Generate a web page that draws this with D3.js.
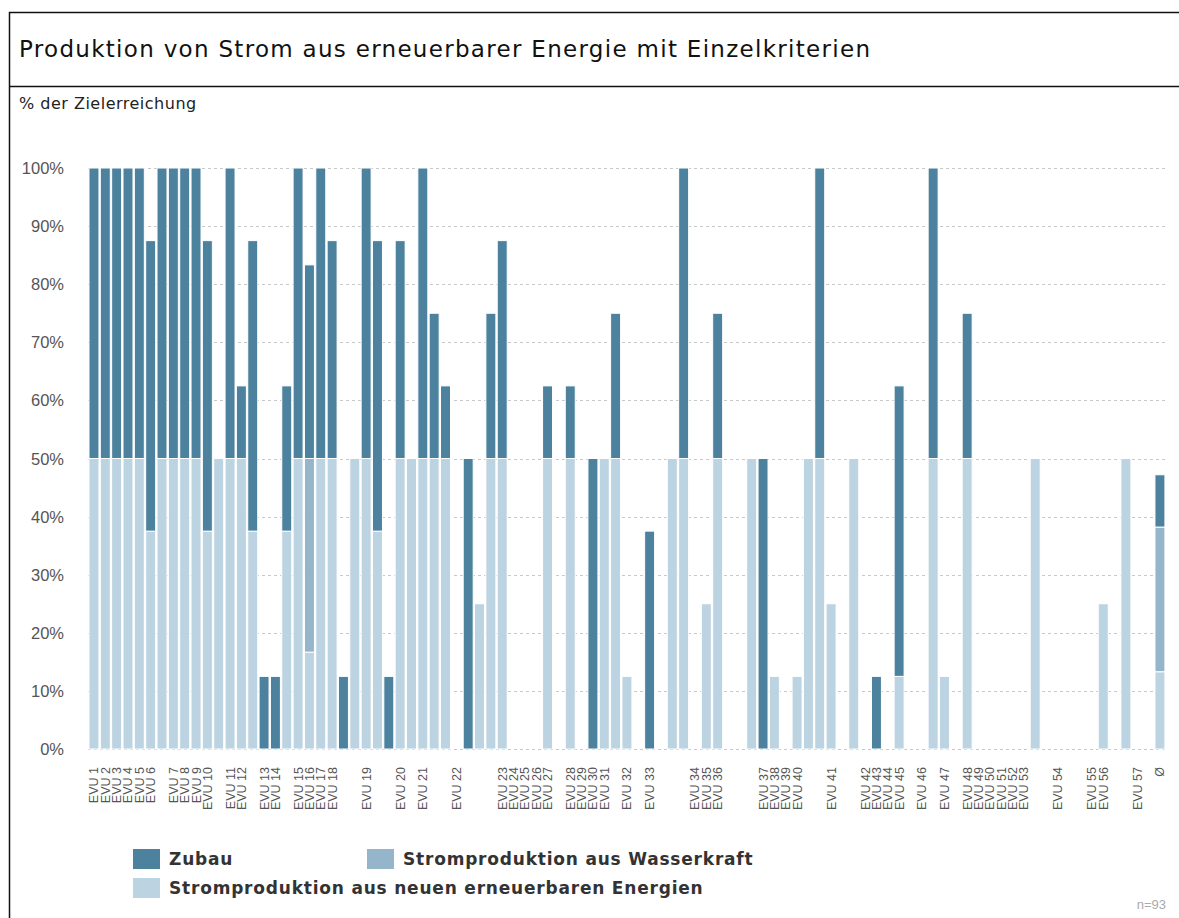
<!DOCTYPE html>
<html lang="de">
<head>
    <meta charset="UTF-8">
    <title>Produktion von Strom aus erneuerbarer Energie</title>
    <script src="https://d3js.org/d3.v7.min.js"></script>
    <style>
        body {
            margin: 0;
            background: #fff;
        }
        svg {
            display: block;
        }
        .title {
            font-family: 'DejaVu Sans', sans-serif;
            font-size: 23px;
            letter-spacing: 1.3px;
            fill: #111;
        }
        .subtitle {
            font-family: 'DejaVu Sans', sans-serif;
            font-size: 16px;
            letter-spacing: 0.5px;
            fill: #222;
        }
        .ytick {
            font-family: 'Liberation Sans', Arial, sans-serif;
            font-size: 16.5px;
            fill: #555;
        }
        .xtick {
            font-family: 'Liberation Sans', Arial, sans-serif;
            font-size: 12.5px;
            fill: #555;
        }
        .legend text {
            font-family: 'DejaVu Sans', sans-serif;
            font-size: 17px;
            letter-spacing: 0.8px;
            font-weight: bold;
            fill: #333;
        }
        .grid {
            stroke: #c8c8c8;
            stroke-width: 1.2;
            stroke-dasharray: 3,3;
        }
    </style>
</head>
<body>
<svg id="chart" width="1179" height="918"></svg>
<script>
    // one slot per bar; "" = anonymous EVU without label
    const labels = [
        "EVU 1", "EVU 2", "EVU 3", "EVU 4", "EVU 5", "EVU 6", "", "EVU 7", "EVU 8", "EVU 9",
        "EVU 10", "", "EVU 11", "EVU 12", "", "EVU 13", "EVU 14", "", "EVU 15", "EVU 16",
        "EVU 17", "EVU 18", "", "", "EVU 19", "", "", "EVU 20", "", "EVU 21",
        "", "", "EVU 22", "", "", "", "EVU 23", "EVU 24", "EVU 25", "EVU 26",
        "EVU 27", "", "EVU 28", "EVU 29", "EVU 30", "EVU 31", "", "EVU 32", "", "EVU 33",
        "", "", "", "EVU 34", "EVU 35", "EVU 36", "", "", "", "EVU 37",
        "EVU 38", "EVU 39", "EVU 40", "", "", "EVU 41", "", "", "EVU 42", "EVU 43",
        "EVU 44", "EVU 45", "", "EVU 46", "", "EVU 47", "", "EVU 48", "EVU 49", "EVU 50",
        "EVU 51", "EVU 52", "EVU 53", "", "", "EVU 54", "", "", "EVU 55", "EVU 56",
        "", "", "EVU 57", "", "Ø"
    ];

    // Stromproduktion aus neuen erneuerbaren Energien (%)
    const neueEE = [
        50, 50, 50, 50, 50, 37.5, 50, 50, 50, 50,
        37.5, 50, 50, 50, 37.5, 0, 0, 37.5, 50, 16.67,
        50, 50, 0, 50, 50, 37.5, 0, 50, 50, 50,
        50, 50, 0, 0, 25, 50, 50, 0, 0, 0,
        50, 0, 50, 0, 0, 50, 50, 12.5, 0, 0,
        0, 50, 50, 0, 25, 50, 0, 0, 50, 0,
        12.5, 0, 12.5, 50, 50, 25, 0, 50, 0, 0,
        0, 12.5, 0, 0, 50, 12.5, 0, 50, 0, 0,
        0, 0, 0, 50, 0, 0, 0, 0, 0, 25,
        0, 50, 0, 0, 13.3
    ];

    // Stromproduktion aus Wasserkraft (%)
    const wasserkraft = [
        0, 0, 0, 0, 0, 0, 0, 0, 0, 0,
        0, 0, 0, 0, 0, 0, 0, 0, 0, 33.33,
        0, 0, 0, 0, 0, 0, 0, 0, 0, 0,
        0, 0, 0, 0, 0, 0, 0, 0, 0, 0,
        0, 0, 0, 0, 0, 0, 0, 0, 0, 0,
        0, 0, 0, 0, 0, 0, 0, 0, 0, 0,
        0, 0, 0, 0, 0, 0, 0, 0, 0, 0,
        0, 0, 0, 0, 0, 0, 0, 0, 0, 0,
        0, 0, 0, 0, 0, 0, 0, 0, 0, 0,
        0, 0, 0, 0, 24.9
    ];

    // Zubau (%)
    const zubau = [
        50, 50, 50, 50, 50, 50, 50, 50, 50, 50,
        50, 0, 50, 12.5, 50, 12.5, 12.5, 25, 50, 33.33,
        50, 37.5, 12.5, 0, 50, 50, 12.5, 37.5, 0, 50,
        25, 12.5, 0, 50, 0, 25, 37.5, 0, 0, 0,
        12.5, 0, 12.5, 0, 50, 0, 25, 0, 0, 37.5,
        0, 0, 50, 0, 0, 25, 0, 0, 0, 50,
        0, 0, 0, 0, 50, 0, 0, 0, 0, 12.5,
        0, 50, 0, 0, 50, 0, 0, 25, 0, 0,
        0, 0, 0, 0, 0, 0, 0, 0, 0, 0,
        0, 0, 0, 0, 9.0
    ];

    const yTicks = [0, 10, 20, 30, 40, 50, 60, 70, 80, 90, 100];

    const series = [
        { key: "neueEE", name: "Stromproduktion aus neuen erneuerbaren Energien", color: "#bcd3e1", values: neueEE },
        { key: "wasserkraft", name: "Stromproduktion aus Wasserkraft", color: "#95b6ca", values: wasserkraft },
        { key: "zubau", name: "Zubau", color: "#4d829e", values: zubau }
    ];

    const svg = d3.select("#chart");

    // frame + title
    svg.append("path")
        .attr("d", "M9.5,918 V12.5 H1179")
        .attr("fill", "none")
        .attr("stroke", "#111")
        .attr("stroke-width", 1.5);
    svg.append("line")
        .attr("x1", 9).attr("x2", 1179)
        .attr("y1", 86.5).attr("y2", 86.5)
        .attr("stroke", "#111")
        .attr("stroke-width", 1.5);
    svg.append("text")
        .attr("class", "title")
        .attr("x", 19).attr("y", 57)
        .text("Produktion von Strom aus erneuerbarer Energie mit Einzelkriterien");
    svg.append("text")
        .attr("class", "subtitle")
        .attr("x", 19).attr("y", 109)
        .text("% der Zielerreichung");

    const x = d3.scaleBand()
        .domain(d3.range(labels.length))
        .range([88.3, 1165.6])
        .paddingInner(0.12)
        .paddingOuter(0.06);

    const y = d3.scaleLinear()
        .domain([0, 100])
        .range([749, 168]);

    // grid
    svg.append("g").selectAll("line")
        .data(yTicks)
        .join("line")
        .attr("class", "grid")
        .attr("x1", 88).attr("x2", 1168)
        .attr("y1", d => Math.round(y(d)) + 0.5)
        .attr("y2", d => Math.round(y(d)) + 0.5);

    svg.append("g").selectAll("text")
        .data(yTicks)
        .join("text")
        .attr("class", "ytick")
        .attr("x", 64)
        .attr("y", d => y(d) + 6)
        .attr("text-anchor", "end")
        .text(d => d + "%");

    // stacked bars
    const rows = labels.map((l, i) => ({
        i: i,
        neueEE: neueEE[i],
        wasserkraft: wasserkraft[i],
        zubau: zubau[i]
    }));
    const stack = d3.stack().keys(series.map(s => s.key))(rows);

    svg.append("g").selectAll("g")
        .data(stack)
        .join("g")
        .attr("fill", (d, k) => series[k].color)
        .selectAll("rect")
        .data(d => d.filter(p => p[1] - p[0] > 0))
        .join("rect")
        .attr("x", p => x(p.data.i))
        .attr("width", x.bandwidth())
        .attr("y", p => y(p[1]))
        .attr("height", p => y(p[0]) - y(p[1]))
        .attr("stroke", "#fff")
        .attr("stroke-width", 1);

    // x labels
    svg.append("g").selectAll("text")
        .data(labels.map((l, i) => ({ l, i })).filter(d => d.l !== ""))
        .join("text")
        .attr("class", "xtick")
        .attr("text-anchor", "end")
        .attr("transform", d => `translate(${x(d.i) + x.bandwidth() / 2 + 4.5},767) rotate(-90)`)
        .text(d => d.l);

    // legend
    const legendItems = [
        { s: series[2], x: 133, y: 849 },
        { s: series[1], x: 367, y: 849 },
        { s: series[0], x: 133, y: 878 }
    ];
    const legend = svg.append("g").attr("class", "legend");
    legendItems.forEach(d => {
        legend.append("rect")
            .attr("x", d.x).attr("y", d.y)
            .attr("width", 27).attr("height", 20)
            .attr("fill", d.s.color);
        legend.append("text")
            .attr("x", d.x + 36).attr("y", d.y + 16)
            .text(d.s.name);
    });

    svg.append("text")
        .attr("x", 1166).attr("y", 909)
        .attr("text-anchor", "end")
        .style("font-family", "'Liberation Sans', Arial, sans-serif")
        .style("font-size", "13px")
        .style("fill", "#aaa")
        .text("n=93");
</script>
</body>
</html>
